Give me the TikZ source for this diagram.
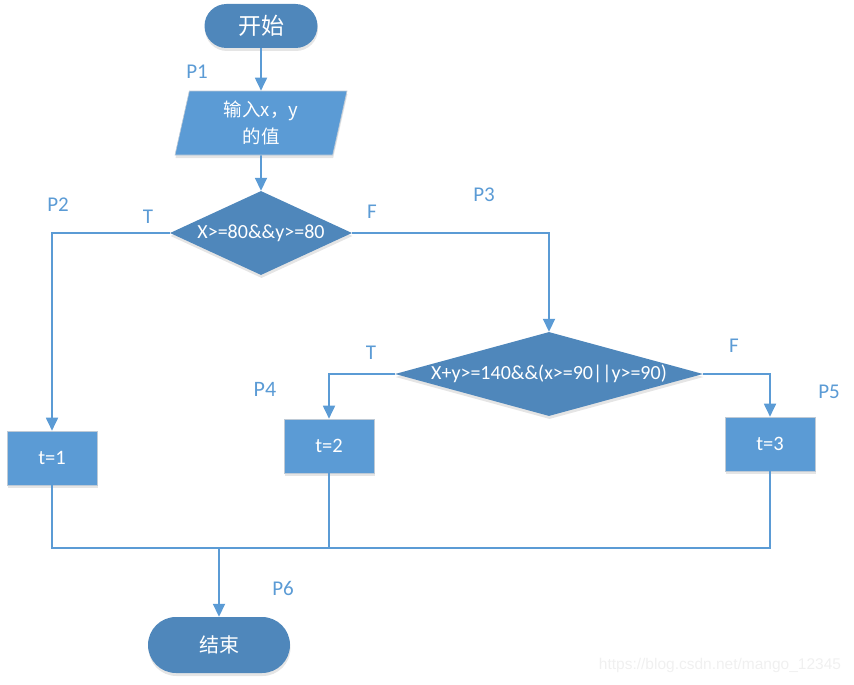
\documentclass[tikz,border=0pt]{standalone}
\usepackage{fontspec}
\setmainfont{Carlito}
\newfontfamily\cjk{Noto Sans CJK SC}
\newfontfamily\wmfont{Liberation Sans}
\usetikzlibrary{shapes.geometric,arrows.meta,shadows}
\definecolor{lineblue}{HTML}{5B9BD5}
\definecolor{darkblue}{HTML}{4F87BB}
\definecolor{boxblue}{HTML}{5B9BD5}
\definecolor{boxedge}{RGB}{190,202,214}
\begin{document}
\begin{tikzpicture}[x=1pt,y=-1pt,
  shade/.style={drop shadow={shadow xshift=0.5pt,shadow yshift=-3pt,fill=black,opacity=0.10}},
  term/.style={shape=rectangle,fill=darkblue,draw=none,text=white,inner sep=0pt,shade},
  iobox/.style={trapezium,trapezium left angle=72,trapezium right angle=108,trapezium stretches body,
    minimum width=172pt,minimum height=64pt,inner sep=0pt,fill=boxblue,draw=boxedge,line width=0.6pt,
    text=white,align=center,shade},
  decision/.style={diamond,minimum width=#1,minimum height=84pt,inner sep=0pt,fill=darkblue,draw=none,
    text=white,shade,font=\fontsize{20}{24}\selectfont},
  procbox/.style={rectangle,minimum width=90pt,minimum height=54pt,inner sep=0pt,fill=boxblue,
    draw=boxedge,line width=0.6pt,text=white,font=\fontsize{20.5}{24}\selectfont,shade},
  conn/.style={draw=lineblue,line width=1.8pt},
  arr/.style={conn,-{Triangle[width=12pt,length=13pt]}},
  lbl/.style={text=lineblue,font=\fontsize{21}{25}\selectfont,inner sep=0pt}]
\useasboundingbox (0,0) rectangle (854,685);

% nodes
\node[term,minimum width=113pt,minimum height=44pt,rounded corners=22pt,font=\cjk\fontsize{23}{27}\selectfont] (start) at (261,26) {开始};
\node[iobox,font=\cjk\fontsize{18.5}{27}\selectfont] (input) at (261,123) {输入x，y\\的值};
\node[decision=182pt] (d1) at (261,233) {\makebox[0pt]{X>=80\&\&y>=80}};
\node[decision=308pt] (d2) at (549,374) {\makebox[0pt]{X+y>=140\&\&(x>=90||y>=90)}};
\node[procbox] (t1) at (52,458) {t=1};
\node[procbox] (t2) at (329,446) {t=2};
\node[procbox] (t3) at (770,444) {t=3};
\node[term,minimum width=142pt,minimum height=56pt,rounded corners=28pt,font=\cjk\fontsize{20}{24}\selectfont] (stop) at (219,645) {结束};
\coordinate (j) at (219,548);

% connectors
\draw[arr] (start.south) -- (input.north);
\draw[arr] (input.south) -- (d1.north);
\draw[arr] (d1.west) -| (t1.north);
\draw[arr] (d1.east) -| (d2.north);
\draw[arr] (d2.west) -| (t2.north);
\draw[arr] (d2.east) -| (t3.north);
\draw[conn] (t1.south) |- (j) -| (t3.south);
\draw[conn] (t2.south) -- (t2.south |- j);
\draw[arr] (j) -- (stop.north);

% labels
\node[lbl] (p1) at (197,72) {P1};
\node[lbl] (p2) at (58,205) {P2};
\node[lbl] (lt1) at (148,217) {T};
\node[lbl] (lf1) at (372,212) {F};
\node[lbl] (p3) at (484,195) {P3};
\node[lbl] (lt2) at (371,353) {T};
\node[lbl] (lf2) at (734,346) {F};
\node[lbl,font=\fontsize{22}{26}\selectfont] (p4) at (265,389) {P4};
\node[lbl] (p5) at (829,392) {P5};
\node[lbl] (p6) at (283,588) {P6};

% watermark
\node[text=black!6,font=\wmfont\fontsize{15.5}{18}\selectfont,inner sep=0pt] (wm) at (720,665) {https://blog.csdn.net/mango\_12345};
\end{tikzpicture}
\end{document}
